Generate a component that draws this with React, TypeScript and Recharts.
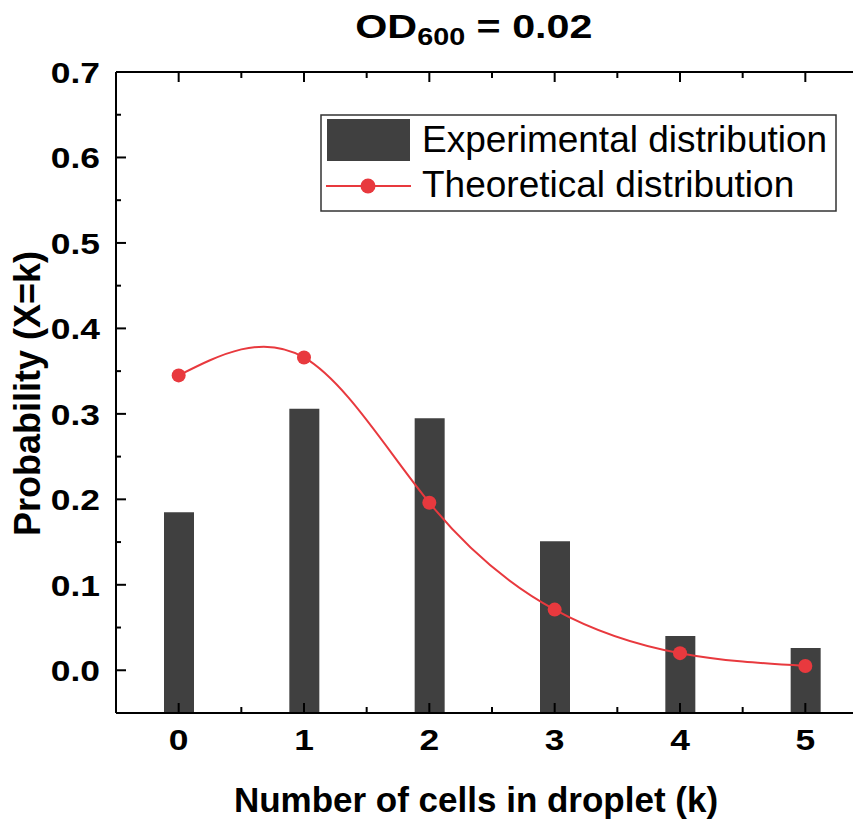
import { ComposedChart, Bar, Line, XAxis, YAxis, Legend, Label } from 'recharts';

const FONT = '"Liberation Sans", Arial, sans-serif';
const BAR = '#404040';
const RED = '#e8393e';

// values
const cellCounts = [0, 1, 2, 3, 4, 5];
const experimental = [0.185, 0.306, 0.295, 0.151, 0.04, 0.026];
const theoretical = [0.345, 0.366, 0.196, 0.071, 0.02, 0.005];

const xMajorTicks = [0, 1, 2, 3, 4, 5];
const xMinorTicks = [-0.5, 0.5, 1.5, 2.5, 3.5, 4.5, 5.5];
const yMajorTicks = [0, 0.1, 0.2, 0.3, 0.4, 0.5, 0.6, 0.7];
const yMinorTicks = [-0.05, 0.05, 0.15, 0.25, 0.35, 0.45, 0.55, 0.65];

const X_DOMAIN: [number, number] = [-0.5, 5.5];
const Y_DOMAIN: [number, number] = [-0.05, 0.7];

const xAllTicks = [...xMajorTicks, ...xMinorTicks].sort((a, b) => a - b);
const yAllTicks = [...yMajorTicks, ...yMinorTicks].sort((a, b) => a - b);

const data = cellCounts.map((k, i) => ({
  k,
  exp: experimental[i],
  theo: theoretical[i],
}));

const isMajor = (list: number[], v: number) => list.some((t) => Math.abs(t - v) < 1e-9);

// the source figure has slightly wide lettering, so labels get a small horizontal stretch
const STRETCH = 1.18;
const X_GAP = 16; // space between axis line and label
const Y_GAP = 16;

// ticks point inwards (Origin style); the mark is drawn next to the label
function BottomTick({ x, y, payload }: any) {
  const major = isMajor(xMajorTicks, payload.value);
  const y0 = y - X_GAP;
  return (
    <g>
      <line x1={x} x2={x} y1={y0} y2={y0 - (major ? 10 : 6)} stroke="#000" strokeWidth={2} />
      {major && (
        <text
          transform={`translate(${x},${y}) scale(${STRETCH},1)`}
          textAnchor="middle"
          dy="0.71em"
          fontSize={30}
          fontWeight="bold"
          fontFamily={FONT}
          fill="#000"
        >
          {payload.value}
        </text>
      )}
    </g>
  );
}

function LeftTick({ x, y, payload }: any) {
  const major = isMajor(yMajorTicks, payload.value);
  const x0 = x + Y_GAP;
  return (
    <g>
      <line x1={x0} x2={x0 + (major ? 10 : 5)} y1={y} y2={y} stroke="#000" strokeWidth={2} />
      {major && (
        <text
          transform={`translate(${x},${y}) scale(${STRETCH},1)`}
          textAnchor="end"
          dy="0.36em"
          fontSize={30}
          fontWeight="bold"
          fontFamily={FONT}
          fill="#000"
        >
          {Number(payload.value).toFixed(1)}
        </text>
      )}
    </g>
  );
}

function TopTick({ x, y, payload }: any) {
  const major = isMajor(xMajorTicks, payload.value);
  return <line x1={x} x2={x} y1={y} y2={y + (major ? 10 : 6)} stroke="#000" strokeWidth={2} />;
}

function RightTick({ x, y, payload }: any) {
  const major = isMajor(yMajorTicks, payload.value);
  return <line x1={x} x2={x - (major ? 10 : 5)} y1={y} y2={y} stroke="#000" strokeWidth={2} />;
}

function LegendBox() {
  return (
    <svg width={517} height={98} style={{ display: 'block' }}>
      <rect x={1} y={1} width={515} height={96} fill="#fff" stroke="#333" strokeWidth={1.5} />
      <rect x={7} y={5} width={83} height={42} fill={BAR} />
      <line x1={6} x2={91} y1={72} y2={72} stroke={RED} strokeWidth={2} />
      <circle cx={48} cy={72} r={7.5} fill={RED} />
      <text x={102} y={38} fontSize={37} fontFamily={FONT} fill="#000">
        Experimental distribution
      </text>
      <text x={102} y={83} fontSize={37} fontFamily={FONT} fill="#000">
        Theoretical distribution
      </text>
    </svg>
  );
}

const frame = { stroke: '#000', strokeWidth: 2 };

export default function App() {
  return (
    <div style={{ position: 'relative', width: 853, height: 815, overflow: 'hidden', fontFamily: FONT }}>
      <div
        style={{
          position: 'absolute',
          left: 0,
          top: 1,
          width: 932,
          textAlign: 'center',
          fontSize: 33,
          fontWeight: 'bold',
          lineHeight: '36px',
          zIndex: 2,
        }}
      >
        <span style={{ display: 'inline-block', transform: 'scaleX(1.25)' }}>
          OD<span style={{ fontSize: 23, position: 'relative', top: 7 }}>600</span> = 0.02
        </span>
      </div>
      <ComposedChart
        width={870}
        height={815}
        data={data}
        margin={{ top: 63, right: 9, bottom: 10, left: 0 }}
      >
        <XAxis
          xAxisId="x"
          dataKey="k"
          type="number"
          domain={X_DOMAIN}
          allowDataOverflow
          ticks={xAllTicks}
          interval={0}
          tickLine={false}
          tickSize={0}
          tickMargin={X_GAP}
          height={100}
          tick={<BottomTick />}
          axisLine={frame}
        >
          <Label
            content={({ viewBox }: any) => (
              <text
                x={viewBox.x + viewBox.width / 2 - 16}
                y={viewBox.y + 99}
                textAnchor="middle"
                fontSize={35}
                fontWeight="bold"
                fontFamily={FONT}
                fill="#000"
              >
                Number of cells in droplet (k)
              </text>
            )}
          />
        </XAxis>
        <XAxis
          xAxisId="top"
          dataKey="k"
          orientation="top"
          type="number"
          domain={X_DOMAIN}
          allowDataOverflow
          ticks={xAllTicks}
          interval={0}
          tickLine={false}
          tickSize={0}
          tickMargin={0}
          height={1}
          tick={<TopTick />}
          axisLine={frame}
        />
        <YAxis
          yAxisId="y"
          type="number"
          domain={Y_DOMAIN}
          allowDataOverflow
          ticks={yAllTicks}
          interval={0}
          tickLine={false}
          tickSize={0}
          tickMargin={Y_GAP}
          width={108}
          tick={<LeftTick />}
          axisLine={frame}
        >
          <Label
            content={({ viewBox }: any) => {
              const cx = 32;
              const cy = viewBox.y + viewBox.height / 2 + 1;
              return (
                <text
                  x={cx}
                  y={cy}
                  transform={`rotate(-90, ${cx}, ${cy})`}
                  textAnchor="middle"
                  fontSize={36}
                  fontWeight="bold"
                  fontFamily={FONT}
                  fill="#000"
                >
                  Probability (X=k)
                </text>
              );
            }}
          />
        </YAxis>
        <YAxis
          yAxisId="right"
          orientation="right"
          type="number"
          domain={Y_DOMAIN}
          allowDataOverflow
          ticks={yAllTicks}
          interval={0}
          tickLine={false}
          tickSize={0}
          tickMargin={0}
          width={1}
          tick={<RightTick />}
          axisLine={frame}
        />
        <Legend
          layout="vertical"
          align="center"
          verticalAlign="middle"
          content={() => <LegendBox />}
          wrapperStyle={{ left: 312, top: 106, width: 517, height: 98 }}
        />
        <Bar
          xAxisId="x"
          yAxisId="y"
          dataKey={(d: any) => [Y_DOMAIN[0], d.exp]}
          name="Experimental distribution"
          fill={BAR}
          barSize={30}
          isAnimationActive={false}
        />
        <Line
          xAxisId="x"
          yAxisId="y"
          dataKey="theo"
          name="Theoretical distribution"
          type="natural"
          stroke={RED}
          strokeWidth={2}
          dot={{ r: 7, fill: RED, stroke: 'none' }}
          isAnimationActive={false}
        />
      </ComposedChart>
    </div>
  );
}
